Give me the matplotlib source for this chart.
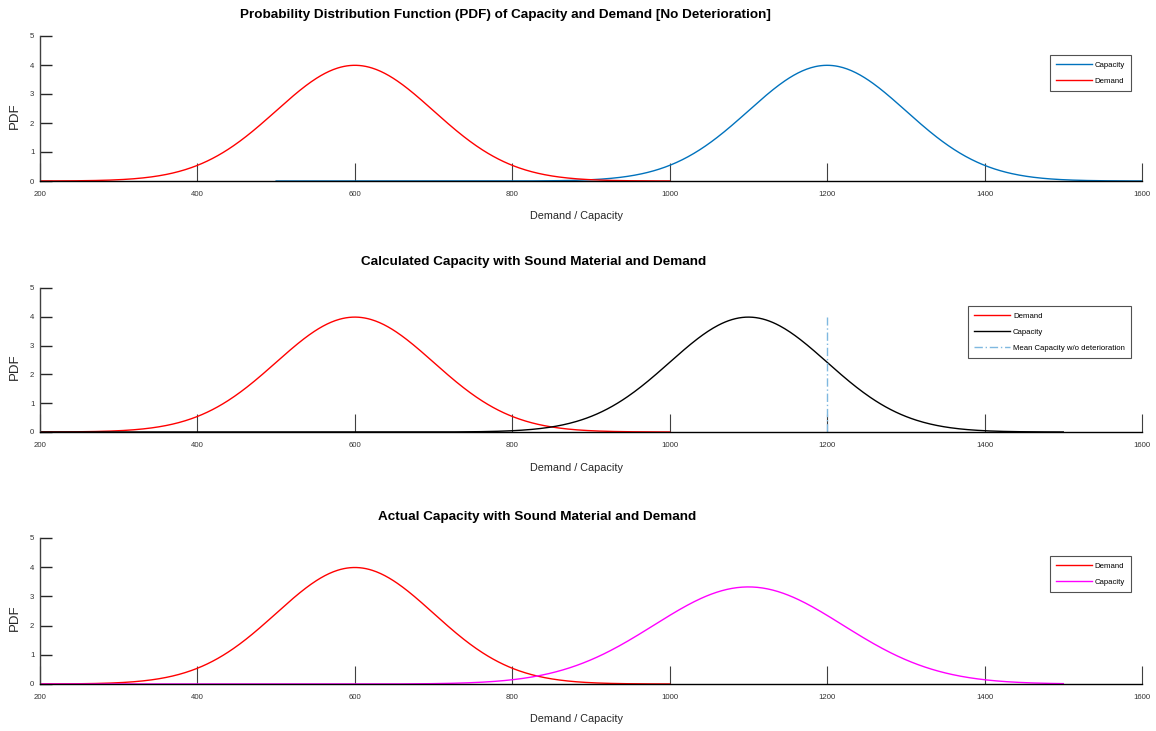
import numpy as np
import matplotlib
matplotlib.use("Agg")
import matplotlib.pyplot as plt
from matplotlib import font_manager

# distribution parameters (mean, standard deviation) and plotting ranges
demand_mean, demand_sd = 600, 100
demand_range = [200, 1000]

cap_sound_mean, cap_sound_sd = 1200, 100
cap_sound_range = [500, 1600]

cap_calc_mean, cap_calc_sd = 1100, 100
cap_calc_range = [200, 1500]

cap_actual_mean, cap_actual_sd = 1100, 120
cap_actual_range = [200, 1500]

x_ticks = [200, 400, 600, 800, 1000, 1200, 1400, 1600]
y_ticks = [0, 1, 2, 3, 4, 5]
y_scale = 1e3  # pdf shown in units of 1e-3

titles = [
    "Probability Distribution Function (PDF) of Capacity and Demand [No Deterioration]",
    "Calculated Capacity with Sound Material and Demand",
    "Actual Capacity with Sound Material and Demand",
]

names = {f.name for f in font_manager.fontManager.ttflist}
narrow = "Liberation Sans Narrow" if "Liberation Sans Narrow" in names else "Liberation Sans"
plt.rcParams["font.family"] = [narrow, "DejaVu Sans"]


def normal_pdf(mean, sd, lo, hi, n=600):
    x = np.linspace(lo, hi, n)
    return x, np.exp(-0.5 * ((x - mean) / sd) ** 2) / (sd * np.sqrt(2 * np.pi)) * y_scale


W, H = 1156, 731
fig = plt.figure(figsize=(W / 100, H / 100), dpi=100)


def px_axes(top, bottom, left=40, right=1142):
    return fig.add_axes([left / W, 1 - bottom / H, (right - left) / W, (bottom - top) / H])


def style(ax):
    ax.set_xlim(200, 1600)
    ax.set_ylim(0, 5)
    ax.set_xticks(x_ticks)
    ax.set_yticks(y_ticks)
    for s in ("top", "right"):
        ax.spines[s].set_visible(False)
    ax.spines["bottom"].set_color("black")
    ax.spines["bottom"].set_linewidth(1.0)
    ax.spines["left"].set_color("#404040")
    ax.spines["left"].set_linewidth(1.0)
    ax.tick_params(axis="x", direction="in", length=13, width=0.8, color="#404040",
                   pad=7, labelsize=5.6, labelcolor="#333333")
    ax.tick_params(axis="y", direction="in", length=8.5, width=1.0, color="#262626",
                   pad=4, labelsize=5.6, labelcolor="#333333")
    ax.patch.set_visible(False)


axes_px = [(36, 181), (288, 432), (538, 684)]
title_px = [(505, 15), (534, 262), (537, 517)]
xlabel_y = [216, 468, 719]
axs = [px_axes(t, b) for t, b in axes_px]
for ax in axs:
    style(ax)

for i, ax in enumerate(axs):
    cx, cy = title_px[i]
    fig.text(cx / W, 1 - cy / H, titles[i], ha="center", va="center",
             fontsize=9.7, fontweight="bold", color="black")
    fig.text(577 / W, 1 - xlabel_y[i] / H, "Demand / Capacity", ha="center", va="center",
             fontsize=7.8, color="#262626")
    t, b = axes_px[i]
    fig.text(15 / W, 1 - ((t + b) / 2 + 7) / H, "PDF", ha="center", va="center",
             rotation=90, fontsize=9.5, color="#262626", family=["Liberation Sans", "DejaVu Sans"])

leg_kw = dict(loc="upper right", fontsize=5.6, frameon=True, fancybox=False,
              edgecolor="#262626", handlelength=4.6, handletextpad=0.4,
              borderpad=0.8, labelspacing=1.1)

# panel 1: no deterioration
ax = axs[0]
xc, yc = normal_pdf(cap_sound_mean, cap_sound_sd, *cap_sound_range)
xd, yd = normal_pdf(demand_mean, demand_sd, *demand_range)
ax.plot(xc, yc, color="#0072BD", lw=1.0, label="Capacity")
ax.plot(xd, yd, color="red", lw=1.0, label="Demand")
lg = ax.legend(bbox_to_anchor=(1135 / W, 1 - 51 / H), bbox_transform=fig.transFigure, **leg_kw)
lg.get_frame().set_linewidth(0.8)

# panel 2: calculated capacity
ax = axs[1]
xd, yd = normal_pdf(demand_mean, demand_sd, *demand_range)
xc, yc = normal_pdf(cap_calc_mean, cap_calc_sd, *cap_calc_range)
ax.plot(xd, yd, color="red", lw=1.0, label="Demand")
ax.plot(xc, yc, color="black", lw=1.0, label="Capacity")
ax.plot([cap_sound_mean, cap_sound_mean], [0, 4], color="#7fb8e0", lw=1.0,
        ls=(0, (6, 2, 1, 2)), label="Mean Capacity w/o deterioration")
lg = ax.legend(bbox_to_anchor=(1135 / W, 1 - 302 / H), bbox_transform=fig.transFigure, **leg_kw)
lg.get_frame().set_linewidth(0.8)

# panel 3: actual capacity
ax = axs[2]
xd, yd = normal_pdf(demand_mean, demand_sd, *demand_range)
xc, yc = normal_pdf(cap_actual_mean, cap_actual_sd, *cap_actual_range)
ax.plot(xd, yd, color="red", lw=1.0, label="Demand")
ax.plot(xc, yc, color="#ff00ff", lw=1.0, label="Capacity")
lg = ax.legend(bbox_to_anchor=(1135 / W, 1 - 552 / H), bbox_transform=fig.transFigure, **leg_kw)
lg.get_frame().set_linewidth(0.8)

fig.savefig("out.png", dpi=100, facecolor="white")
